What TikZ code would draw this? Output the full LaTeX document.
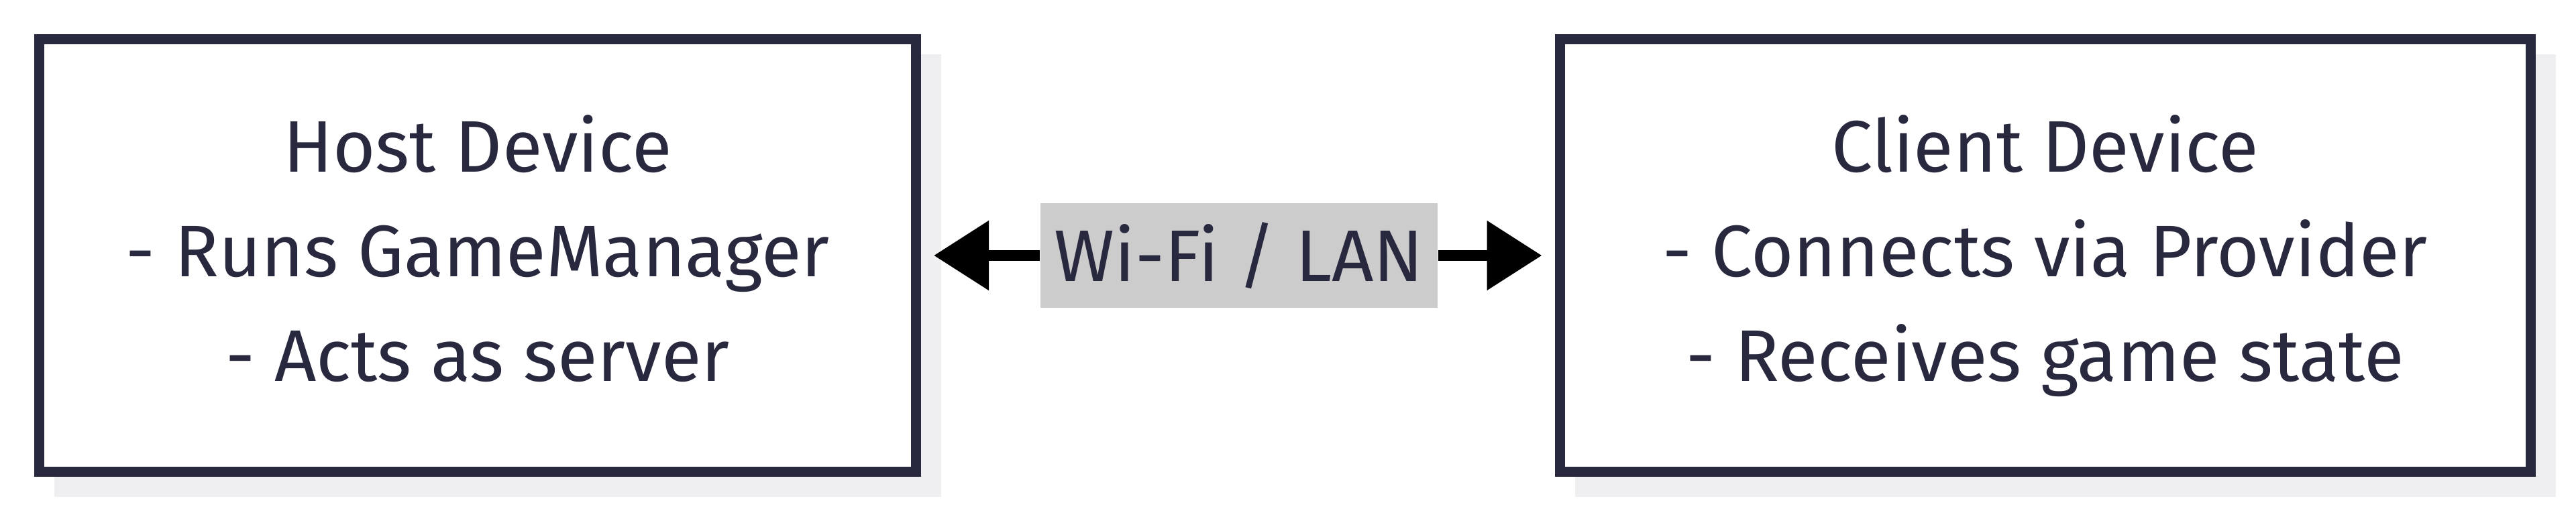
\documentclass[tikz,border=0pt]{standalone}
\usepackage{fontspec}
\setmainfont{Fira Sans}
\usetikzlibrary{arrows.meta,backgrounds}
\definecolor{navy}{HTML}{28283F}
\definecolor{shadowgray}{HTML}{EFEFF1}
\definecolor{labelgray}{HTML}{CCCCCC}
\tikzset{
  device/.style={draw=navy, line width=0.15cm, fill=white, text=navy,
    align=center, minimum height=6.45cm,
    font=\fontsize{31}{44.4}\selectfont},
  linklabel/.style={fill=labelgray, text=navy, inner xsep=0.05cm, inner ysep=0pt,
    minimum height=1.56cm, minimum width=5.92cm,
    font=\fontsize{31}{44.4}\selectfont},
  linkarrow/.style={line width=0.16cm, -{Triangle[length=0.82cm,width=1.0cm]},
    shorten >=0.19cm},
}
\begin{document}
\begin{tikzpicture}
  \useasboundingbox (0,0) rectangle (38.4,7.64);
  \node[device, minimum width=13.07cm] (host) at (7.12,3.83)
    {\strut Host Device\\- Runs GameManager\\- Acts as server\strut};
  \node[device, minimum width=14.47cm] (client) at (30.485,3.83)
    {\strut Client Device\\- Connects via Provider\\- Receives game state\strut};
  \node[linklabel] (link) at (18.47,3.83) {Wi-Fi / LAN};
  \draw[linkarrow] (link.west) -- (host.east);
  \draw[linkarrow] (link.east) -- (client.west);
  \begin{scope}[on background layer]
    \fill[shadowgray] ([shift={(0.3,-0.3)}]host.south west) rectangle ([shift={(0.3,-0.3)}]host.north east);
    \fill[shadowgray] ([shift={(0.3,-0.3)}]client.south west) rectangle ([shift={(0.3,-0.3)}]client.north east);
  \end{scope}
\end{tikzpicture}
\end{document}
